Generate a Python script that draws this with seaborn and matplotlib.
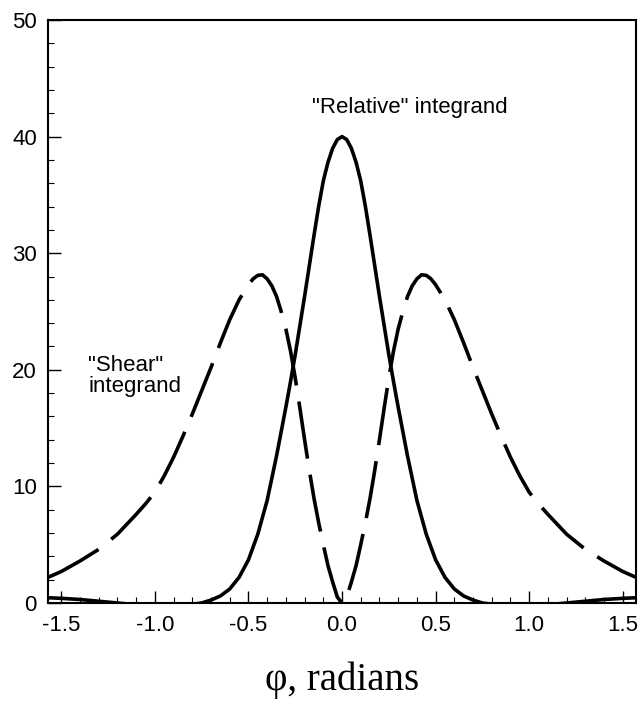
import numpy as np
import matplotlib
matplotlib.use("Agg")
import matplotlib.pyplot as plt
import seaborn as sns
from matplotlib.ticker import MultipleLocator

# "Relative" integrand (solid)
phi_rel = [-1.5708, -1.5, -1.4, -1.3, -1.2, -1.1, -1.0, -0.9, -0.8, -0.75, -0.7,
           -0.65, -0.6, -0.55, -0.5, -0.45, -0.4, -0.35, -0.3, -0.275, -0.25,
           -0.225, -0.2, -0.175, -0.15, -0.125, -0.1, -0.075, -0.05, -0.025, 0.0,
           0.025, 0.05, 0.075, 0.1, 0.125, 0.15, 0.175, 0.2, 0.225, 0.25, 0.275,
           0.3, 0.35, 0.4, 0.45, 0.5, 0.55, 0.6, 0.65, 0.7, 0.75, 0.8, 0.9, 1.0,
           1.1, 1.2, 1.3, 1.4, 1.5, 1.5708]
rel_vals = [0.45, 0.4, 0.3, 0.15, 0.0, -0.15, -0.2, -0.2, -0.1, 0.0, 0.25,
            0.6, 1.2, 2.2, 3.7, 5.9, 8.8, 12.6, 16.8, 19.0, 21.3,
            23.8, 26.3, 28.9, 31.5, 34.0, 36.2, 37.8, 39.0, 39.75, 40.0,
            39.75, 39.0, 37.8, 36.2, 34.0, 31.5, 28.9, 26.3, 23.8, 21.3, 19.0,
            16.8, 12.6, 8.8, 5.9, 3.7, 2.2, 1.2, 0.6, 0.25, 0.0, -0.1, -0.2, -0.2,
            -0.15, 0.0, 0.15, 0.3, 0.4, 0.45]

# "Shear" integrand (dashed)
phi_shear = [-1.5708, -1.5, -1.4, -1.3, -1.2, -1.1, -1.05, -1.0, -0.95, -0.9,
             -0.85, -0.8, -0.75, -0.7, -0.65, -0.6, -0.55, -0.5, -0.475, -0.45,
             -0.425, -0.4, -0.375, -0.35, -0.325, -0.3, -0.275, -0.25, -0.225,
             -0.2, -0.175, -0.15, -0.125, -0.1, -0.075, -0.05, -0.025, 0.0,
             0.025, 0.05, 0.075, 0.1, 0.125, 0.15, 0.175, 0.2, 0.225, 0.25,
             0.275, 0.3, 0.325, 0.35, 0.375, 0.4, 0.425, 0.45, 0.475, 0.5, 0.55,
             0.6, 0.65, 0.7, 0.75, 0.8, 0.85, 0.9, 0.95, 1.0, 1.05, 1.1, 1.2, 1.3,
             1.4, 1.5, 1.5708]
shear_vals = [2.2, 2.7, 3.6, 4.6, 5.9, 7.6, 8.5, 9.5, 10.9, 12.5,
              14.3, 16.2, 18.2, 20.2, 22.3, 24.3, 26.0, 27.3, 27.8, 28.1,
              28.15, 27.8, 27.2, 26.3, 25.0, 23.5, 21.6, 19.3, 16.7,
              14.0, 11.4, 9.0, 6.9, 5.0, 3.2, 1.8, 0.5, 0.0,
              0.5, 1.8, 3.2, 5.0, 6.9, 9.0, 11.4, 14.0, 16.7, 19.3,
              21.6, 23.5, 25.0, 26.3, 27.2, 27.8, 28.15, 28.1, 27.8, 27.3, 26.0,
              24.3, 22.3, 20.2, 18.2, 16.2, 14.3, 12.5, 10.9, 9.5, 8.5, 7.6, 5.9, 4.6,
              3.6, 2.7, 2.2]

x_ticks = [-1.5, -1.0, -0.5, 0.0, 0.5, 1.0, 1.5]
y_ticks = [0, 10, 20, 30, 40, 50]

sns.set_style("ticks")
plt.rcParams['font.family'] = ['Liberation Sans', 'DejaVu Sans']
plt.rcParams['text.color'] = 'black'
plt.rcParams['xtick.color'] = 'black'
plt.rcParams['ytick.color'] = 'black'
plt.rcParams['axes.labelcolor'] = 'black'

fig = plt.figure(figsize=(6.42, 7.05), dpi=100)
ax = fig.add_axes([0.0748, 0.1447, 0.9159, 0.8269])

sns.lineplot(x=phi_rel, y=rel_vals, sort=False, color='black', lw=2.6, ax=ax)
sns.lineplot(x=phi_shear, y=shear_vals, sort=False, color='black', lw=2.6, ax=ax)
ax.lines[1].set_dashes((16, 4.5))

ax.set_xlim(-np.pi / 2, np.pi / 2)
ax.set_ylim(0, 50)
ax.set_xticks(x_ticks)
ax.set_xticklabels([f"{t:.1f}" for t in x_ticks])
ax.set_yticks(y_ticks)
ax.xaxis.set_minor_locator(MultipleLocator(0.1))
ax.yaxis.set_minor_locator(MultipleLocator(2))

ax.tick_params(which='major', direction='in', length=9, width=1.0,
               labelsize=16, pad=9, top=False, right=False)
ax.tick_params(which='minor', direction='in', length=4.5, width=0.8,
               top=False, right=False)
ax.tick_params(axis='y', which='major', pad=8)

for sp in ax.spines.values():
    sp.set_visible(True)
    sp.set_linewidth(1.5)
    sp.set_color('black')

ax.set_xlabel("φ, radians", family=['Liberation Serif', 'DejaVu Serif'],
              fontsize=28, labelpad=18)
ax.set_ylabel("")

ax.text(-0.16, 42.5, '"Relative" integrand', fontsize=16, ha='left', va='center')
ax.text(-1.357, 21.3, '"Shear"\nintegrand', fontsize=16, ha='left', va='top',
        linespacing=1.0)

fig.savefig("out.png", dpi=100)
